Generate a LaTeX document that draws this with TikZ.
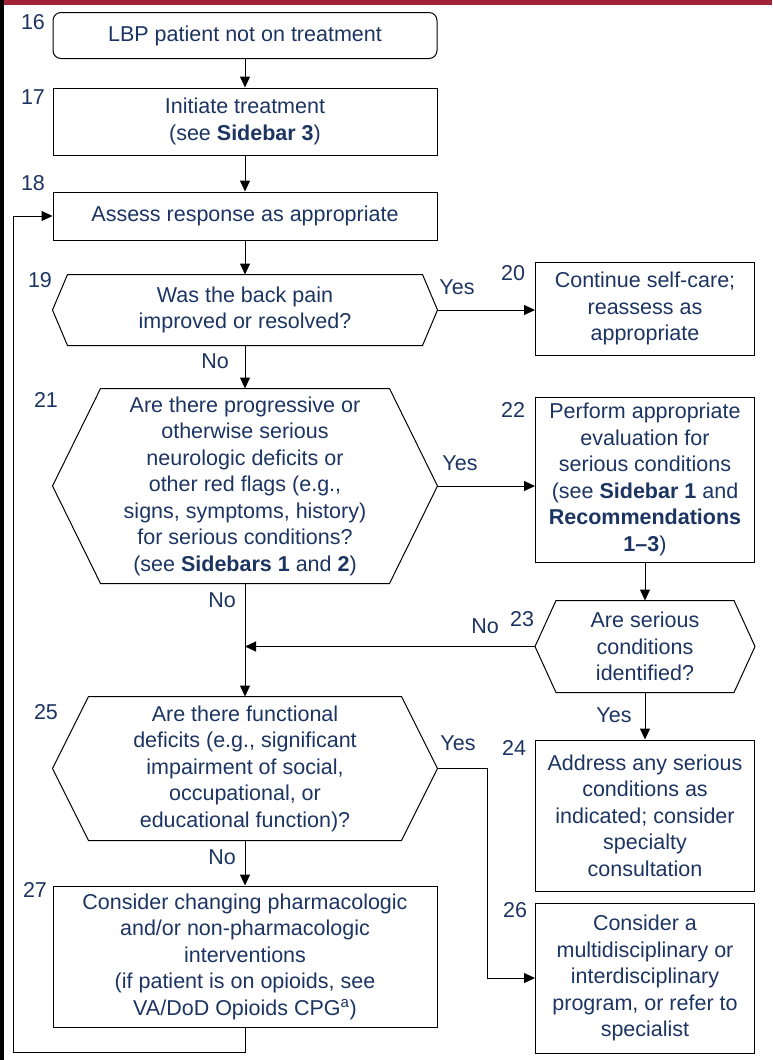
\documentclass[tikz,border=0pt]{standalone}
\usepackage{fontspec}
\setmainfont{Liberation Sans}
\usetikzlibrary{arrows.meta,positioning,calc}
\definecolor{navy}{RGB}{28,52,98}
\definecolor{barred}{RGB}{160,35,55}

% hexagon outline round a (hidden) decision node
\newcommand{\hexpath}[2]{\draw (#1.west) -- ([xshift=#2]#1.north west) -- ([xshift=-#2]#1.north east) -- (#1.east) -- ([xshift=-#2]#1.south east) -- ([xshift=#2]#1.south west) -- cycle;}

\begin{document}
\begin{tikzpicture}[
    x=1pt, y=-1pt, line width=1pt,
    font=\fontsize{21.5}{26.5}\selectfont, text=navy,
    lbox/.style={draw, align=center, inner sep=1pt, minimum width=384pt, minimum height=#1},
    rbox/.style={draw, align=center, inner sep=1pt, minimum width=219pt, minimum height=#1},
    qbox/.style={align=center, inner sep=1pt, minimum width=#1},
    arr/.style={-{Triangle[length=11pt,width=10pt]}}
]
    \useasboundingbox (0,0) rectangle (772,1060);
    % page edges
    \fill[barred] (0,0) rectangle (772,5);
    \fill[black] (0,0) rectangle (4,1060);

    % step numbers
    \node (n16) at (33,22) {16};
    \node (n17) at (33,97) {17};
    \node (n18) at (33,183) {18};
    \node (n19) at (40,280) {19};
    \node (n20) at (513,273) {20};
    \node (n21) at (46,400) {21};
    \node (n22) at (513,410) {22};
    \node (n23) at (522,619) {23};
    \node (n24) at (514,748) {24};
    \node (n25) at (46,712) {25};
    \node (n26) at (515,910) {26};
    \node (n27) at (35,890) {27};

    % left column
    \node[lbox=46pt, rounded corners=8pt] (b16) at (245,35.5) {LBP patient not on treatment};
    \node[lbox=67pt] (b17) at (245,121.5) {Initiate treatment\\(see \textbf{Sidebar 3})};
    \node[lbox=48pt] (b18) at (245,216) {Assess response as appropriate};
    \node[qbox=384pt, minimum height=70pt] (q19) at (245,310) {Was the back pain\\improved or resolved?};
    \node[qbox=384pt, minimum height=194pt] (q21) at (245,486) {Are there progressive or\\otherwise serious\\neurologic deficits or\\other red flags (e.g.,\\signs, symptoms, history)\\for serious conditions?\\(see \textbf{Sidebars 1} and \textbf{2})};
    \node[qbox=384pt, minimum height=143pt] (q25) at (245,768.5) {Are there functional\\deficits (e.g., significant\\impairment of social,\\occupational, or\\educational function)?};
    \node[lbox=141pt] (b27) at (245,956.5) {Consider changing pharmacologic\\and/or non-pharmacologic\\interventions\\(if patient is on opioids, see\\VA/DoD Opioids CPG\textsuperscript{a})};

    % right column
    \node[rbox=93pt] (b20) at (645,308.5) {Continue self-care;\\reassess as\\appropriate};
    \node[rbox=165pt] (b22) at (645,479.5) {Perform appropriate\\evaluation for\\serious conditions\\(see \textbf{Sidebar 1} and\\\textbf{Recommendations}\\\textbf{1--3})};
    \node[qbox=219pt, minimum height=91pt] (q23) at (645,646.5) {Are serious\\conditions\\identified?};
    \node[rbox=151pt] (b24) at (645,815.5) {Address any serious\\conditions as\\indicated; consider\\specialty\\consultation};
    \node[rbox=150pt] (b26) at (645,978) {Consider a\\multidisciplinary or\\interdisciplinary\\program, or refer to\\specialist};

    \hexpath{q19}{15pt}
    \hexpath{q21}{48pt}
    \hexpath{q23}{21pt}
    \hexpath{q25}{36pt}

    % answers
    \node (y19) at (457,287) {Yes};
    \node (o19) at (215,361) {No};
    \node (y21) at (460,463) {Yes};
    \node (o21) at (222,600) {No};
    \node (o23) at (485,626) {No};
    \node (y23) at (614,715) {Yes};
    \node (y25) at (458,743) {Yes};
    \node (o25) at (222,857) {No};

    \coordinate (k25) at (487,768.5);
    \coordinate (k27) at (13,1052);

    \draw[arr] (b16) -- (b17);
    \draw[arr] (b17) -- (b18);
    \draw[arr] (b18) -- (q19);
    \draw[arr] (q19.east) -- (q19.east -| b20.west);
    \draw[arr] (q19) -- (q21);
    \draw[arr] (q21.east) -- (q21.east -| b22.west);
    \draw[arr] (b22) -- (q23);
    \draw[arr] (q23.west) -- (q23.west -| q21.south);
    \draw[arr] (q21) -- (q25);
    \draw[arr] (q23) -- (b24);
    \draw[arr] (q25.east) -- (k25) |- (b26.west);
    \draw[arr] (q25) -- (b27);
    \draw[arr] (b27.south) |- (k27) |- (b18.west);
\end{tikzpicture}
\end{document}
